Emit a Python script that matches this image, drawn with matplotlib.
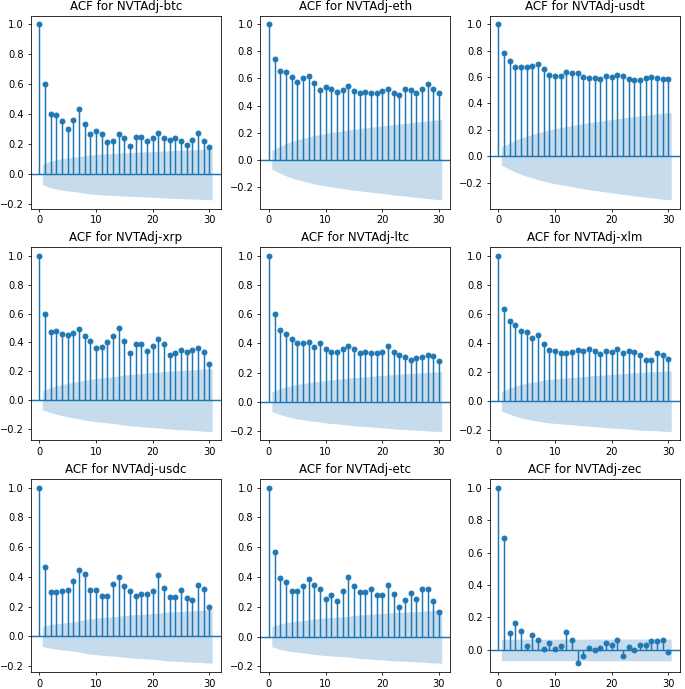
# ACF plots for NVTAdj of nine coins

import numpy as np
import matplotlib
matplotlib.use("Agg")
import matplotlib.pyplot as plt

lags = list(range(31))

coins = ["btc", "eth", "usdt", "xrp", "ltc", "xlm", "usdc", "etc", "zec"]

acf_btc = [1.0, 0.605, 0.404, 0.397, 0.355, 0.301, 0.364, 0.435, 0.337, 0.272, 0.286,
           0.266, 0.217, 0.223, 0.268, 0.241, 0.192, 0.250, 0.252, 0.221, 0.241,
           0.279, 0.243, 0.230, 0.241, 0.221, 0.196, 0.228, 0.279, 0.223, 0.183]
acf_eth = [1.0, 0.747, 0.654, 0.649, 0.612, 0.577, 0.604, 0.617, 0.568, 0.518, 0.536,
           0.521, 0.501, 0.514, 0.541, 0.506, 0.491, 0.501, 0.491, 0.489, 0.504,
           0.523, 0.496, 0.479, 0.523, 0.514, 0.489, 0.523, 0.560, 0.521, 0.491]
acf_usdt = [1.0, 0.781, 0.720, 0.677, 0.677, 0.677, 0.687, 0.697, 0.659, 0.618, 0.608,
            0.608, 0.641, 0.634, 0.634, 0.598, 0.593, 0.593, 0.588, 0.608, 0.603,
            0.616, 0.608, 0.583, 0.578, 0.580, 0.595, 0.598, 0.593, 0.585, 0.585]
acf_xrp = [1.0, 0.600, 0.474, 0.479, 0.460, 0.451, 0.463, 0.491, 0.447, 0.407, 0.363,
           0.370, 0.402, 0.442, 0.500, 0.409, 0.328, 0.386, 0.388, 0.342, 0.372,
           0.426, 0.388, 0.312, 0.326, 0.349, 0.335, 0.347, 0.358, 0.337, 0.253]
acf_ltc = [1.0, 0.601, 0.493, 0.461, 0.427, 0.406, 0.401, 0.408, 0.376, 0.401, 0.362,
           0.342, 0.339, 0.360, 0.383, 0.358, 0.333, 0.339, 0.337, 0.335, 0.342,
           0.381, 0.342, 0.317, 0.307, 0.284, 0.300, 0.307, 0.319, 0.310, 0.278]
acf_xlm = [1.0, 0.634, 0.553, 0.525, 0.482, 0.479, 0.435, 0.454, 0.396, 0.350, 0.348,
           0.334, 0.332, 0.341, 0.350, 0.348, 0.362, 0.346, 0.325, 0.343, 0.339,
           0.359, 0.334, 0.348, 0.341, 0.316, 0.281, 0.286, 0.334, 0.318, 0.293]
acf_usdc = [1.0, 0.464, 0.298, 0.298, 0.303, 0.309, 0.372, 0.444, 0.417, 0.314, 0.312,
            0.269, 0.269, 0.352, 0.397, 0.336, 0.305, 0.269, 0.285, 0.285, 0.303,
            0.415, 0.323, 0.265, 0.265, 0.314, 0.260, 0.244, 0.348, 0.316, 0.195]
acf_etc = [1.0, 0.570, 0.395, 0.365, 0.305, 0.305, 0.343, 0.386, 0.348, 0.323, 0.251,
           0.283, 0.238, 0.309, 0.399, 0.339, 0.298, 0.298, 0.323, 0.280, 0.280,
           0.345, 0.287, 0.197, 0.249, 0.296, 0.251, 0.318, 0.321, 0.238, 0.166]
acf_zec = [1.0, 0.690, 0.105, 0.164, 0.115, 0.021, 0.092, 0.060, 0.008, 0.045, 0.004,
           0.023, 0.113, 0.064, -0.082, -0.035, 0.012, 0.001, 0.014, 0.045, 0.033,
           0.064, -0.037, 0.016, 0.001, 0.029, 0.029, 0.053, 0.053, 0.062, -0.014]

# half-width of the confidence band at lags 1..30
band_btc = [0.068, 0.089, 0.098, 0.105, 0.110, 0.114, 0.119, 0.126, 0.130, 0.133,
            0.136, 0.138, 0.140, 0.142, 0.144, 0.146, 0.147, 0.149, 0.151, 0.152,
            0.154, 0.156, 0.158, 0.160, 0.161, 0.163, 0.164, 0.165, 0.167, 0.169]
band_eth = [0.069, 0.100, 0.119, 0.135, 0.147, 0.158, 0.168, 0.179, 0.187, 0.194,
            0.201, 0.207, 0.213, 0.219, 0.225, 0.230, 0.235, 0.240, 0.245, 0.250,
            0.254, 0.260, 0.264, 0.268, 0.273, 0.278, 0.282, 0.286, 0.291, 0.296]
band_usdt = [0.068, 0.101, 0.122, 0.138, 0.152, 0.165, 0.178, 0.190, 0.200, 0.209,
             0.217, 0.224, 0.232, 0.240, 0.248, 0.254, 0.260, 0.266, 0.272, 0.278,
             0.284, 0.290, 0.296, 0.301, 0.306, 0.311, 0.316, 0.321, 0.326, 0.331]
band_xrp = [0.067, 0.087, 0.098, 0.108, 0.116, 0.124, 0.131, 0.139, 0.145, 0.150,
            0.154, 0.158, 0.162, 0.168, 0.174, 0.178, 0.181, 0.185, 0.188, 0.191,
            0.194, 0.198, 0.201, 0.204, 0.206, 0.208, 0.211, 0.213, 0.216, 0.218]
band_ltc = [0.068, 0.089, 0.101, 0.110, 0.118, 0.124, 0.130, 0.136, 0.140, 0.146,
            0.150, 0.153, 0.157, 0.161, 0.165, 0.168, 0.171, 0.174, 0.177, 0.180,
            0.183, 0.187, 0.190, 0.192, 0.194, 0.196, 0.198, 0.201, 0.203, 0.205]
band_xlm = [0.067, 0.090, 0.104, 0.115, 0.124, 0.132, 0.138, 0.145, 0.150, 0.153,
            0.157, 0.160, 0.163, 0.166, 0.170, 0.173, 0.176, 0.179, 0.182, 0.185,
            0.187, 0.190, 0.193, 0.196, 0.199, 0.201, 0.203, 0.204, 0.207, 0.209]
band_usdc = [0.067, 0.080, 0.085, 0.090, 0.094, 0.098, 0.105, 0.113, 0.119, 0.123,
             0.127, 0.129, 0.132, 0.136, 0.141, 0.144, 0.147, 0.149, 0.152, 0.154,
             0.157, 0.162, 0.165, 0.167, 0.168, 0.171, 0.173, 0.174, 0.177, 0.180]
band_etc = [0.067, 0.086, 0.094, 0.100, 0.104, 0.108, 0.113, 0.119, 0.123, 0.127,
            0.129, 0.132, 0.134, 0.137, 0.142, 0.146, 0.148, 0.151, 0.154, 0.156,
            0.159, 0.162, 0.164, 0.165, 0.167, 0.169, 0.171, 0.174, 0.176, 0.178]
band_zec = [0.066, 0.066, 0.066, 0.066, 0.066, 0.066, 0.066, 0.066, 0.066, 0.066,
            0.066, 0.066, 0.066, 0.066, 0.066, 0.067, 0.067, 0.067, 0.067, 0.067,
            0.067, 0.067, 0.067, 0.067, 0.067, 0.067, 0.067, 0.067, 0.067, 0.067]

acfs = [acf_btc, acf_eth, acf_usdt, acf_xrp, acf_ltc, acf_xlm, acf_usdc, acf_etc, acf_zec]
bands = [band_btc, band_eth, band_usdt, band_xrp, band_ltc, band_xlm, band_usdc, band_etc, band_zec]

fig, axes = plt.subplots(nrows=3, ncols=3, figsize=(685 / 71, 689 / 71), dpi=71)
axes = axes.flatten()

for i, coin in enumerate(coins):
    ax = axes[i]
    acf = np.array(acfs[i])
    band = np.array(bands[i])

    # band x positions: lags 1..30, ends pushed out by half a lag
    band_x = np.array(lags[1:], dtype=float)
    band_x[0] -= 0.5
    band_x[-1] += 0.5

    ax.vlines(lags, [0], acf, colors='C0')
    ax.axhline(0, color='C0')
    ax.margins(0.05)
    ax.plot(lags, acf, marker='o', markersize=5, linestyle='None', color='C0')
    ax.fill_between(band_x, -band, band, alpha=0.25, color='C0', linewidth=0)
    ax.set_title(f'ACF for NVTAdj-{coin}')

plt.subplots_adjust(left=0.045, right=0.9925, top=0.9775, bottom=0.0247, wspace=0.208, hspace=0.2)
plt.savefig('out.png', dpi=71)
